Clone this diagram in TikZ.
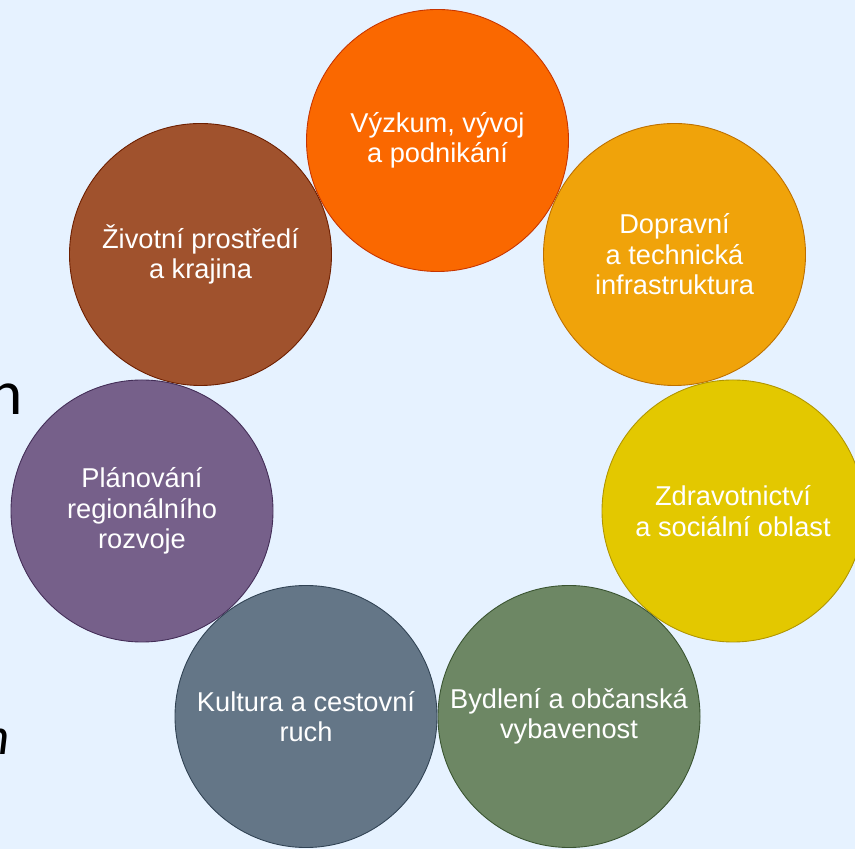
\documentclass[tikz,border=0pt]{standalone}
\usepackage{fontspec}
\setmainfont{Liberation Sans}
\newfontfamily\slidefont{Carlito}
\usepackage{xcolor}
\usepackage{tikz}
\usetikzlibrary{positioning}

\definecolor{pagebg}{RGB}{230,242,255}
\definecolor{vyzkumfill}{HTML}{FA6800}
\definecolor{vyzkumline}{HTML}{C73500}
\definecolor{dopravafill}{HTML}{F0A30A}
\definecolor{dopravaline}{HTML}{BD7000}
\definecolor{zdravifill}{HTML}{E3C800}
\definecolor{zdraviline}{HTML}{B09500}
\definecolor{bydlenifill}{HTML}{6D8764}
\definecolor{bydleniline}{HTML}{3A5431}
\definecolor{kulturafill}{HTML}{647687}
\definecolor{kulturaline}{HTML}{314354}
\definecolor{planfill}{HTML}{76608A}
\definecolor{planline}{HTML}{432D57}
\definecolor{prostredifill}{HTML}{A0522D}
\definecolor{prostrediline}{HTML}{6D1F00}

\begin{document}
\begin{tikzpicture}[
      area/.style={circle, draw, line width=0.5pt, minimum size=5.24cm, inner sep=0pt,
                   align=center, text=white,
                   font=\fontsize{15.5}{17.4}\selectfont},
      vyzkum/.style={area, fill=vyzkumfill, draw=vyzkumline},
      doprava/.style={area, fill=dopravafill, draw=dopravaline},
      zdravi/.style={area, fill=zdravifill, draw=zdraviline},
      bydleni/.style={area, fill=bydlenifill, draw=bydleniline},
      kultura/.style={area, fill=kulturafill, draw=kulturaline},
      planovani/.style={area, fill=planfill, draw=planline},
      prostredi/.style={area, fill=prostredifill, draw=prostrediline},
      cut/.style={inner sep=0pt, text=black}
    ]
    \fill[pagebg] (0,0) rectangle (17.1,16.98);
    \useasboundingbox (0,0) rectangle (17.1,16.98);

    % cut-off slide text at the left edge
    \node[cut, anchor=base east, font=\slidefont\fontsize{36}{40}\selectfont] (cutn) at (0.46,8.68) {n};
    \node[cut, anchor=base east, font=\slidefont\itshape\fontsize{30}{34}\selectfont] (cutit) at (0.2,1.88) {n};

    \node[vyzkum]    (vyzkum)    at (8.75,14.17)   {Výzkum, vývoj\\a podnikání};
    \node[doprava]   (doprava)   at (13.49,11.89)  {Dopravní\\a technická\\infrastruktura};
    \node[zdravi]    (zdravi)    at (14.66,6.76)   {Zdravotnictví\\a sociální oblast};
    \node[bydleni]   (bydleni)   at (11.38,2.65)   {Bydlení a občanská\\vybavenost};
    \node[kultura]   (kultura)   at (6.12,2.65)    {Kultura a cestovní\\ruch};
    \node[planovani] (planovani) at (2.84,6.76)    {Plánování\\regionálního\\rozvoje};
    \node[prostredi] (prostredi) at (4.01,11.89)   {Životní prostředí\\a krajina};
  \end{tikzpicture}
\end{document}
